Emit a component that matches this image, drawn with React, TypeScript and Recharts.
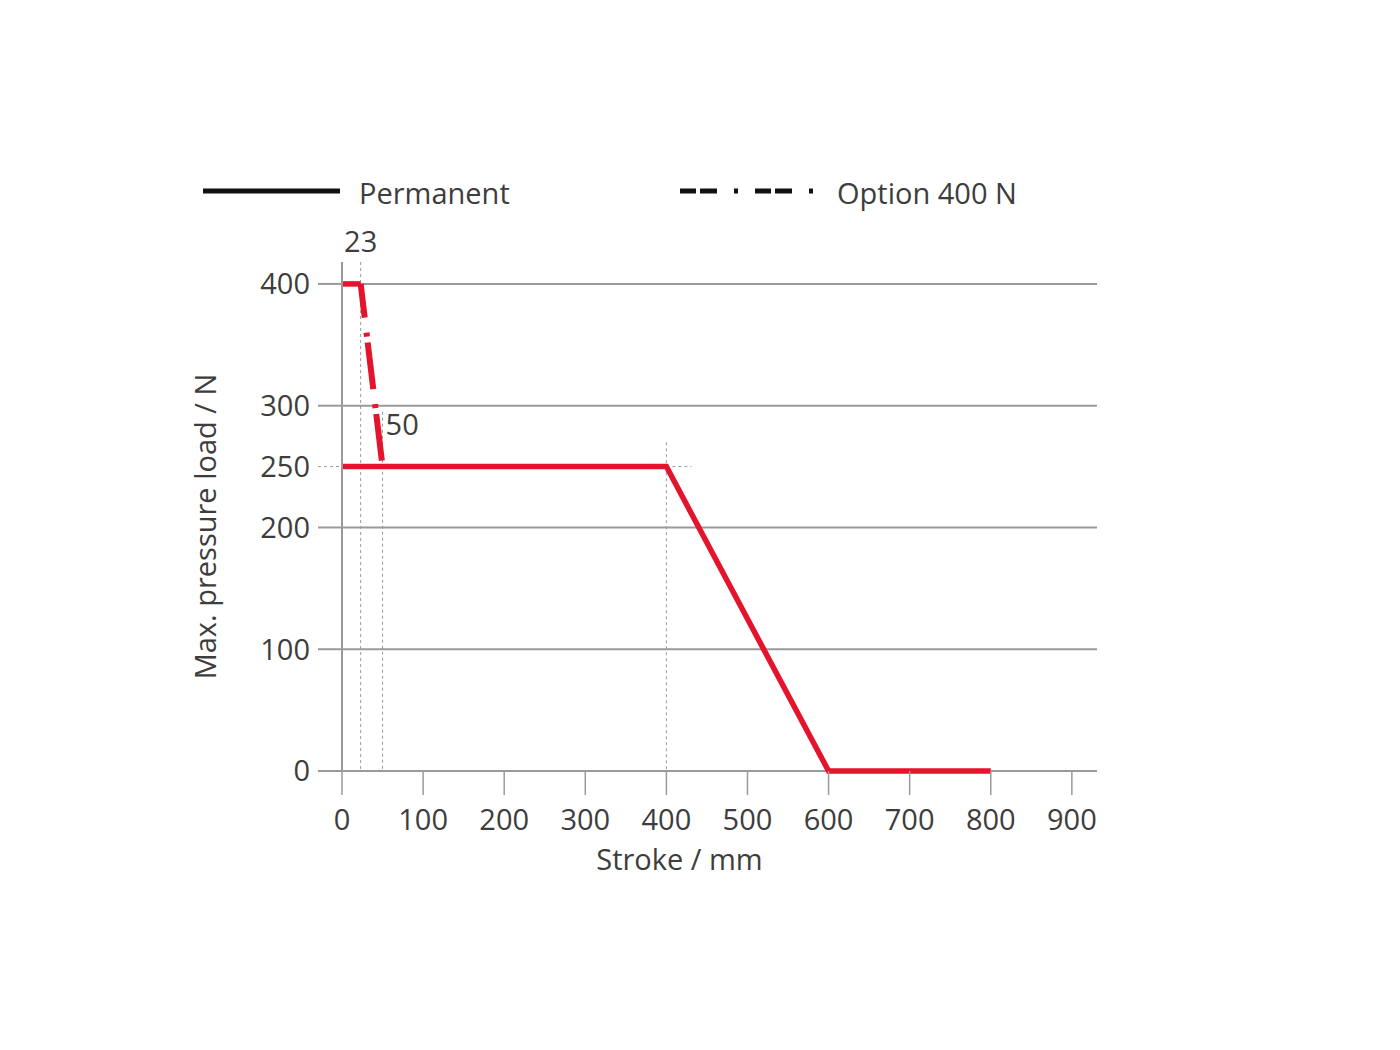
import React from 'react';
import { LineChart, Line, XAxis, YAxis, ReferenceLine, Legend, Label } from 'recharts';

// ---- data ----
const strokeMm = [0, 400, 600, 800];
const permanentN = [250, 250, 0, 0];
const optionStrokeMm = [0, 23, 50];
const optionN = [400, 400, 250];

const xTicks = [0, 100, 200, 300, 400, 500, 600, 700, 800, 900];
const yTicks = [0, 100, 200, 250, 300, 400];
const yGridValues = [0, 100, 200, 300, 400];

// dotted guide lines: [x1, y1, x2, y2] in data units
const guideX23 = [23, 418, 23, 0];
const guideX50 = [50, 295, 50, 0];
const guideX400 = [400, 270, 400, 0];
const guideY250 = [400, 250, 431, 250];

const legendItems = [
  { name: 'Permanent', dash: undefined as string | undefined },
  { name: 'Option 400 N', dash: '16 4 17 17 4 17' },
];

// ---- styling ----
const FONT = "'Open Sans', sans-serif";
const TEXT = '#3d3d3d';
const GRID = '#9a9a9a';
const RED = '#e5142d';
const FS = 29;
const TICK_SIZE = 24;
const TICK_MARGIN = 8;

const permanentData = strokeMm.map((x, i) => ({ x, y: permanentN[i] }));
const optionFlatData = optionStrokeMm.slice(0, 2).map((x, i) => ({ x, y: optionN[i] }));
const optionSlopeData = optionStrokeMm.slice(1).map((x, i) => ({ x, y: optionN[i + 1] }));

const seg = (g: number[]) => [
  { x: g[0], y: g[1] },
  { x: g[2], y: g[3] },
];

const YTick = (props: any) => {
  const { x, y, payload } = props;
  const axisX = x + TICK_MARGIN + TICK_SIZE;
  const dotted = payload.value === 250;
  return (
    <g>
      <line
        x1={axisX - TICK_SIZE}
        x2={axisX}
        y1={y}
        y2={y}
        stroke={GRID}
        strokeWidth={dotted ? 1 : 2}
        strokeDasharray={dotted ? '3 3' : undefined}
      />
      <text x={x} y={y} dy="0.36em" textAnchor="end" fill={TEXT} fontSize={FS} fontFamily={FONT}>
        {payload.value}
      </text>
    </g>
  );
};

const LegendContent = () => (
  <svg width={1384} height={60}>
    {legendItems.map((it, i) => {
      const x0 = i === 0 ? 195 : 672;
      return (
        <g key={it.name}>
          <line
            x1={x0}
            x2={x0 + 137}
            y1={26}
            y2={26}
            stroke="#111"
            strokeWidth={5}
            strokeDasharray={it.dash}
          />
          <text x={x0 + (i === 0 ? 156 : 157)} y={39} fill={TEXT} fontSize={FS} fontFamily={FONT}>
            {it.name}
          </text>
        </g>
      );
    })}
  </svg>
);

const Label50 = (props: any) => {
  const vb = props.viewBox || {};
  return (
    <text x={vb.x + 3} y={vb.y + 23} fill={TEXT} fontSize={FS} fontFamily={FONT}>
      50
    </text>
  );
};

export default function App() {
  return (
    <div style={{ width: 1384, height: 1000, background: '#fff' }}>
      <LineChart
        width={1384}
        height={1000}
        margin={{ top: 254, right: 295, bottom: 177, left: 0 }}
      >
        <XAxis
          type="number"
          dataKey="x"
          domain={[0, 931]}
          ticks={xTicks}
          interval={0}
          axisLine={false}
          tickLine={{ stroke: GRID, strokeWidth: 1.5 }}
          tickSize={TICK_SIZE}
          tickMargin={14}
          height={60}
          tick={{ fill: TEXT, fontSize: FS, fontFamily: FONT }}
        >
          <Label
            value="Stroke / mm"
            position="bottom"
            offset={18}
            dx={-40}
            fill={TEXT}
            fontSize={FS}
            fontFamily={FONT}
          />
        </XAxis>
        <YAxis
          type="number"
          domain={[0, 418]}
          ticks={yTicks}
          interval={0}
          width={334}
          axisLine={{ stroke: GRID, strokeWidth: 2 }}
          tickLine={false}
          tickSize={TICK_SIZE}
          tickMargin={TICK_MARGIN}
          tick={<YTick />}
        >
          <Label
            value="Max. pressure load / N"
            angle={-90}
            position="insideLeft"
            offset={198}
            dy={10}
            fill={TEXT}
            fontSize={FS}
            fontFamily={FONT}
            style={{ textAnchor: 'middle' }}
          />
        </YAxis>
        <Legend
          layout="vertical"
          align="center"
          verticalAlign="middle"
          wrapperStyle={{ top: 157, left: 0, width: 1384, height: 60 }}
          content={<LegendContent />}
        />
        {yGridValues.map((v) => (
          <ReferenceLine key={'g' + v} y={v} stroke={GRID} strokeWidth={2} />
        ))}
        <ReferenceLine
          segment={seg(guideX23)}
          stroke={GRID}
          strokeWidth={1}
          strokeDasharray="3 3"
          label={{ value: '23', position: 'top', offset: 10, fill: TEXT, fontSize: FS, fontFamily: FONT }}
        />
        <ReferenceLine
          segment={seg(guideX50)}
          stroke={GRID}
          strokeWidth={1}
          strokeDasharray="3 3"
          label={<Label50 />}
        />
        <ReferenceLine segment={seg(guideX400)} stroke={GRID} strokeWidth={1} strokeDasharray="3 3" />
        <ReferenceLine segment={seg(guideY250)} stroke={GRID} strokeWidth={1} strokeDasharray="3 3" />
        <Line
          data={permanentData}
          dataKey="y"
          name="Permanent"
          type="linear"
          stroke={RED}
          strokeWidth={5.5}
          dot={false}
          activeDot={false}
          isAnimationActive={false}
        />
        <Line
          data={optionFlatData}
          dataKey="y"
          name="Option 400 N flat"
          type="linear"
          stroke={RED}
          strokeWidth={5.5}
          dot={false}
          activeDot={false}
          isAnimationActive={false}
        />
        <Line
          data={optionSlopeData}
          dataKey="y"
          name="Option 400 N"
          type="linear"
          stroke={RED}
          strokeWidth={6}
          strokeDasharray="47 15 4 6"
          strokeDashoffset={13}
          dot={false}
          activeDot={false}
          isAnimationActive={false}
        />
      </LineChart>
    </div>
  );
}
